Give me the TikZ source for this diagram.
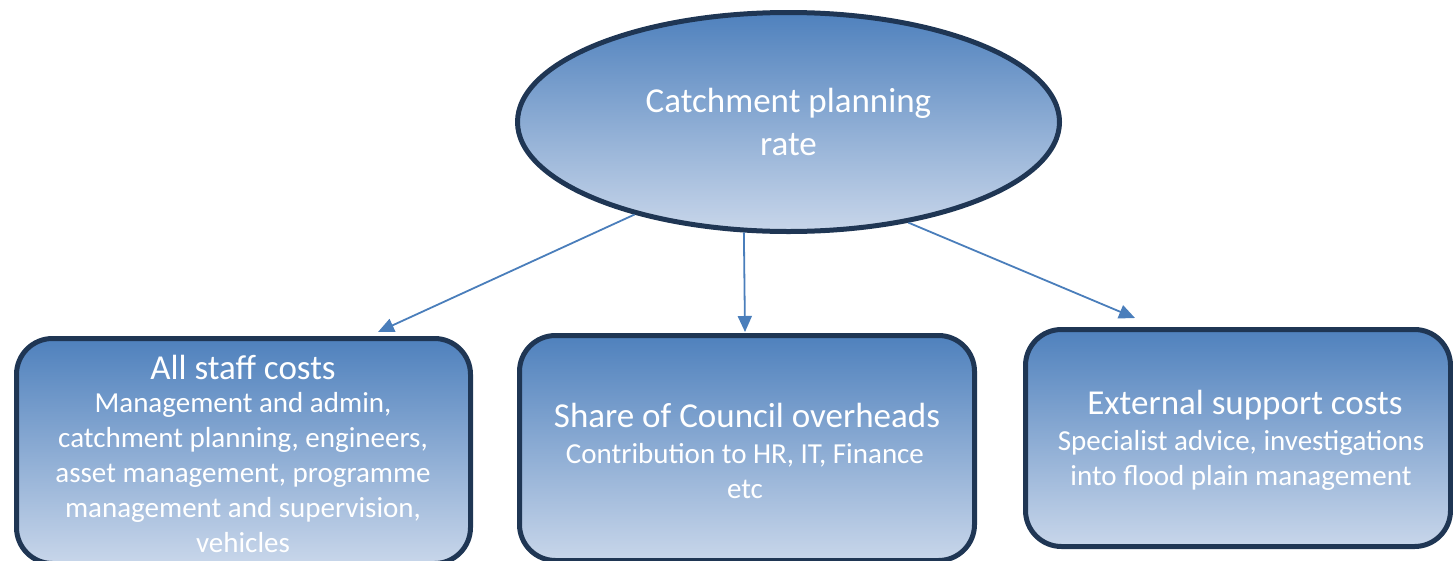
\documentclass[tikz,border=0pt]{standalone}
\usepackage{fontspec}
\setmainfont{Carlito}
\usetikzlibrary{shapes.geometric,arrows.meta}
\definecolor{edgenavy}{RGB}{31,54,84}
\definecolor{fillTop}{RGB}{79,129,189}
\definecolor{fillBot}{RGB}{200,214,234}
\definecolor{linkblue}{RGB}{74,126,187}
\begin{document}
\begin{tikzpicture}[x=1pt,y=-1pt,
  shapebase/.style={draw=edgenavy,line width=5pt,top color=fillTop,bottom color=fillBot,inner sep=0pt},
  costbox/.style={shapebase,rounded corners=36pt,anchor=north west},
  txt/.style={text=white,align=center,inner sep=0pt},
  headfont/.style={font=\fontsize{35}{43}\selectfont},
  bodyfont/.style={font=\fontsize{29}{35}\selectfont},
  link/.style={draw=linkblue,line width=1.8pt,-{Triangle[length=16pt,width=14pt]}}]
\useasboundingbox (0,0) rectangle (1453,560);
\clip (0,0) rectangle (1453,560);

% top level: the rate
\node[shapebase,ellipse,minimum width=542pt,minimum height=219pt,
      text=white,align=center,headfont] (rate) at (788.5,122)
      {Catchment planning\\rate};

% three cost boxes (placed by their outer top-left corner)
\node[costbox,minimum width=454pt,minimum height=225pt] (staff) at (14,336) {};
\node[costbox,minimum width=455pt,minimum height=225pt] (share) at (517,333) {};
\node[costbox,minimum width=425pt,minimum height=217pt] (ext) at (1023,327) {};

% box texts
\node[txt,headfont] (stafftitle) at (243,367) {All staff costs};
\node[txt,bodyfont] (staffbody) at (243,473) {Management and admin,\\catchment planning, engineers,\\asset management, programme\\management and supervision,\\vehicles};
\node[txt,headfont] (sharetitle) at (747,415) {Share of Council overheads};
\node[txt,bodyfont] (sharebody) at (745,471.5) {Contribution to HR, IT, Finance\\etc};
\node[txt,headfont] (exttitle) at (1245,405) {External support costs};
\node[txt,bodyfont] (extbody) at (1241,460.5) {Specialist advice, investigations\\into flood plain management};

% connectors
\coordinate (staffhead) at (378,332);
\coordinate (sharehead) at (745,332);
\coordinate (exthead) at (1135,318);
\draw[link] (rate.211.3) -- (staffhead);
\draw[link] (rate.248.8) -- (sharehead);
\draw[link] (rate.320.1) -- (exthead);
\end{tikzpicture}
\end{document}
